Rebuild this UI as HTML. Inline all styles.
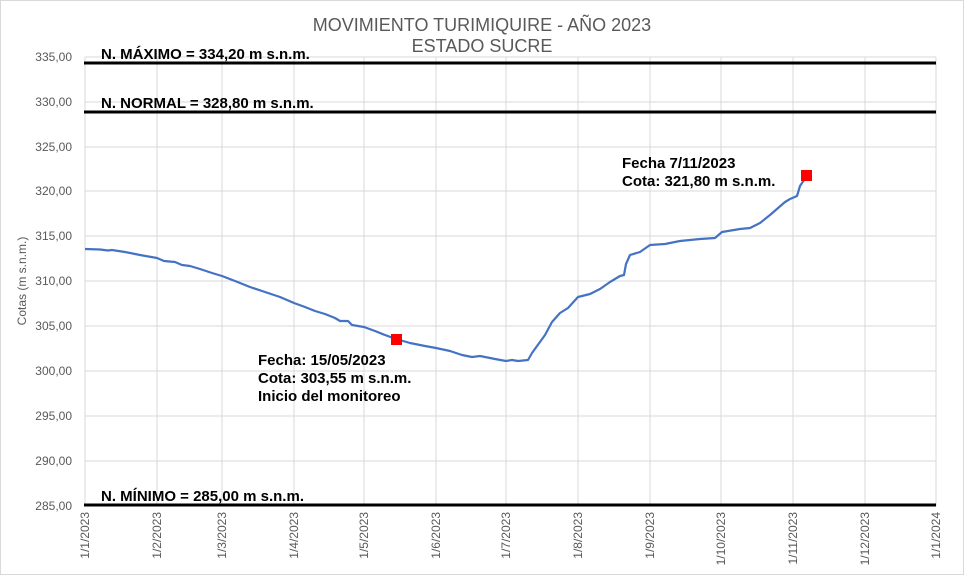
<!DOCTYPE html>
<html><head><meta charset="utf-8"><style>
body{margin:0;background:#fff;}
svg{display:block;font-family:"Liberation Sans",Arial,sans-serif;}
</style></head><body>
<svg width="965" height="576" viewBox="0 0 965 576">
<rect x="0.5" y="0.5" width="963" height="574" fill="#fff" stroke="#d9d9d9"/>
<text x="482" y="31" font-size="18" fill="#595959" text-anchor="middle">MOVIMIENTO TURIMIQUIRE - AÑO 2023</text>
<text x="482" y="52" font-size="18" fill="#595959" text-anchor="middle">ESTADO SUCRE</text>
<g stroke="#d9d9d9" stroke-width="1">
<line x1="85" y1="57" x2="936" y2="57"/><line x1="85" y1="102" x2="936" y2="102"/>
<line x1="85" y1="147" x2="936" y2="147"/><line x1="85" y1="191" x2="936" y2="191"/>
<line x1="85" y1="236" x2="936" y2="236"/><line x1="85" y1="281" x2="936" y2="281"/>
<line x1="85" y1="326" x2="936" y2="326"/><line x1="85" y1="371" x2="936" y2="371"/>
<line x1="85" y1="416" x2="936" y2="416"/><line x1="85" y1="461" x2="936" y2="461"/>
<line x1="85" y1="57" x2="85" y2="506"/><line x1="157" y1="57" x2="157" y2="506"/>
<line x1="222" y1="57" x2="222" y2="506"/><line x1="294" y1="57" x2="294" y2="506"/>
<line x1="364" y1="57" x2="364" y2="506"/><line x1="436" y1="57" x2="436" y2="506"/>
<line x1="506" y1="57" x2="506" y2="506"/><line x1="578" y1="57" x2="578" y2="506"/>
<line x1="650" y1="57" x2="650" y2="506"/><line x1="721" y1="57" x2="721" y2="506"/>
<line x1="793" y1="57" x2="793" y2="506"/><line x1="865" y1="57" x2="865" y2="506"/>
<line x1="936" y1="57" x2="936" y2="506"/>
</g>
<g font-size="12" fill="#595959" text-anchor="end">
<text x="72" y="61">335,00</text><text x="72" y="106">330,00</text><text x="72" y="151">325,00</text>
<text x="72" y="195">320,00</text><text x="72" y="240">315,00</text><text x="72" y="285">310,00</text>
<text x="72" y="330">305,00</text><text x="72" y="375">300,00</text><text x="72" y="420">295,00</text>
<text x="72" y="465">290,00</text><text x="72" y="510">285,00</text>
</g>
<text transform="translate(26,281) rotate(-90)" font-size="12" fill="#595959" text-anchor="middle">Cotas (m s.n.m.)</text>
<g font-size="12" fill="#595959" text-anchor="end">
<text transform="translate(89,512) rotate(-90)">1/1/2023</text>
<text transform="translate(161,512) rotate(-90)">1/2/2023</text>
<text transform="translate(226,512) rotate(-90)">1/3/2023</text>
<text transform="translate(298,512) rotate(-90)">1/4/2023</text>
<text transform="translate(368,512) rotate(-90)">1/5/2023</text>
<text transform="translate(440,512) rotate(-90)">1/6/2023</text>
<text transform="translate(510,512) rotate(-90)">1/7/2023</text>
<text transform="translate(582,512) rotate(-90)">1/8/2023</text>
<text transform="translate(654,512) rotate(-90)">1/9/2023</text>
<text transform="translate(725,512) rotate(-90)">1/10/2023</text>
<text transform="translate(797,512) rotate(-90)">1/11/2023</text>
<text transform="translate(869,512) rotate(-90)">1/12/2023</text>
<text transform="translate(940,512) rotate(-90)">1/1/2024</text>
</g>
<g stroke="#000" stroke-width="3">
<line x1="84" y1="63" x2="936" y2="63"/>
<line x1="84" y1="112" x2="936" y2="112"/>
<line x1="84" y1="505" x2="936" y2="505"/>
</g>
<g font-size="15" font-weight="bold" fill="#000">
<text x="101" y="59">N. MÁXIMO = 334,20 m s.n.m.</text>
<text x="101" y="108">N. NORMAL = 328,80 m s.n.m.</text>
<text x="101" y="501">N. MÍNIMO = 285,00 m s.n.m.</text>
</g>
<polyline fill="none" stroke="#4472c4" stroke-width="2.2" stroke-linejoin="round" points="85,249 100,249.5 108,250.5 112,250 125,252 140,255 157,258 164,261 175,262 182,265 190,266 200,269 212,273 222,276 235,281 250,287 265,292 280,297 294,303 305,307 315,311 325,314 335,318 340,321 348,321 352,325 364,327 375,331 385,335 396,339 410,343 425,346 436,348 450,351 462,355 472,357 480,356 495,359 506,361 512,360 518,361 528,360 532,353 545,335 552,322 560,313 568,308 578,297 590,294 600,289 610,282 620,276 624,275 626,264 630,255 640,252 650,245 665,244 680,241 700,239 715,238 722,232 740,229 750,228 760,223 770,215 785,202 790,199 797,196 800,186 806,177"/>
<rect x="391" y="334" width="11" height="11" fill="#ff0000"/>
<rect x="801" y="170" width="11" height="11" fill="#ff0000"/>
<g font-size="15" font-weight="bold" fill="#000">
<text x="258" y="365">Fecha: 15/05/2023</text>
<text x="258" y="383">Cota: 303,55 m s.n.m.</text>
<text x="258" y="401">Inicio del monitoreo</text>
<text x="622" y="168">Fecha 7/11/2023</text>
<text x="622" y="186">Cota: 321,80 m s.n.m.</text>
</g>
</svg>
</body></html>
